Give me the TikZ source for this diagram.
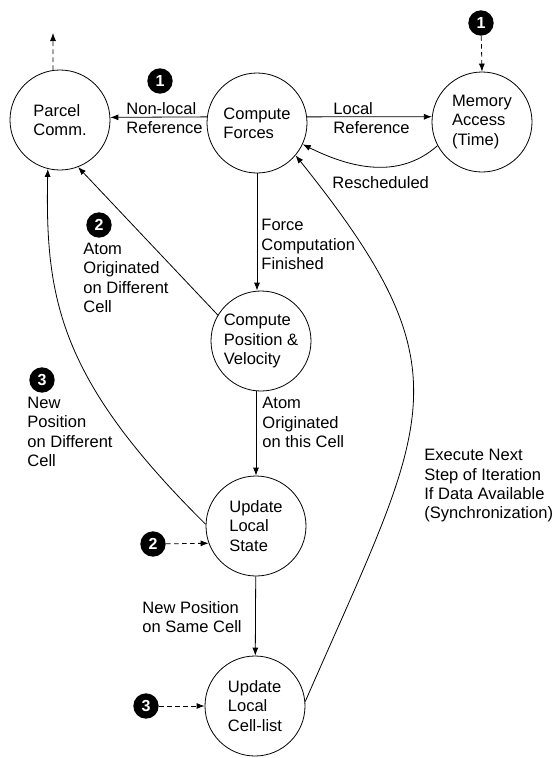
\documentclass[tikz,border=0pt]{standalone}
\usepackage{fontspec}
\setmainfont{Liberation Sans}
\usetikzlibrary{arrows.meta}

\begin{document}
\begin{tikzpicture}[x=0.75pt, y=-0.75pt, line width=0.6pt,
    state/.style={circle, draw, minimum size=75pt, inner sep=0pt, align=left,
        font=\fontsize{12.4}{14.5}\selectfont},
    lbl/.style={align=left, inner sep=0pt, anchor=west,
        font=\fontsize{12.4}{14.5}\selectfont},
    badge/.style={circle, fill=black, text=white, minimum size=19pt, inner sep=0pt,
        font=\bfseries\fontsize{12}{12}\selectfont},
    arr/.style={-{Latex[length=6pt,width=4.5pt]}},
    dasharr/.style={arr, dash pattern=on 3.5pt off 2.5pt}]

    \useasboundingbox (0,0) rectangle (556,758);

    \node[state] (parcel) at (60,120) {Parcel\\Comm.};
    \node[state] (forces) at (257,123) {Compute\\Forces};
    \node[state] (memory) at (482,122) {Memory\\Access\\(Time)};
    \node[state] (cpv) at (261,341) {Compute\\Position \&\\Velocity};
    \node[state] (uls) at (256,526) {Update\\Local\\State};
    \node[state] (ulc) at (255,706) {Update\\Local\\Cell-list};

    \node[badge] (b1a) at (160,81) {1};
    \node[badge] (b1b) at (481,23) {1};
    \node[badge] (b2a) at (99,225) {2};
    \node[badge] (b2b) at (153,544) {2};
    \node[badge] (b3a) at (42,380) {3};
    \node[badge] (b3b) at (146,706) {3};
    \coordinate (pout) at (53,33);

    \draw[arr] (forces.173) -- (parcel.3);
    \draw[arr] (forces.7) -- (memory.174);
    \draw[arr] (memory.208) .. controls (410,170) and (370,178) .. (forces.-25);
    \draw[arr] (forces.south) -- (forces.south |- cpv.north);
    \draw[arr] (cpv.149) -- (parcel.-69);
    \draw[arr] (uls.north |- cpv.south) -- (uls.north);
    \draw[arr] (uls.178) .. controls (60,380) and (45,300) .. (parcel.-104);
    \draw[arr] (uls) -- (ulc);
    \draw[arr] (ulc.5) .. controls (429,418) and (471,374) .. (forces.-40);

    \draw[dasharr] (parcel.98) -- (pout);
    \draw[dasharr] (b1b) -- (memory.north);
    \draw[dasharr] (b2b) -- (uls.200);
    \draw[dasharr] (b3b) -- (ulc.west);

    \node[lbl] (nonlocal) at (126,118) {Non-local\\Reference};
    \node[lbl] (local) at (333,118) {Local\\Reference};
    \node[lbl] (resched) at (332,182.5) {Rescheduled};
    \node[lbl] (finished) at (261,244.5) {Force\\Computation\\Finished};
    \node[lbl] (diffcell) at (83,278) {Atom\\Originated\\on Different\\Cell};
    \node[lbl] (thiscell) at (262,422.5) {Atom\\Originated\\on this Cell};
    \node[lbl] (newpos) at (27,432) {New\\Position\\on Different\\Cell};
    \node[lbl] (samecell) at (142,617) {New Position\\on Same Cell};
    \node[lbl] (nextstep) at (424,486) {Execute Next\\Step of Iteration\\If Data Available\\(Synchronization)};
\end{tikzpicture}
\end{document}
